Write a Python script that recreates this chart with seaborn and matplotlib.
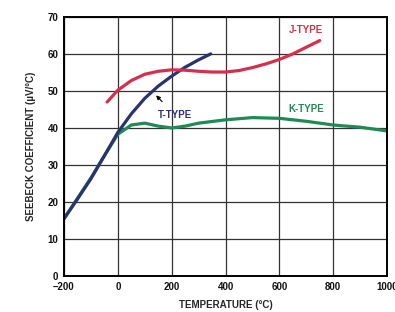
import pandas as pd
import matplotlib.pyplot as plt
import seaborn as sns

# Seebeck coefficient curves
t_temp = [-200, -150, -100, -50, 0, 50, 100, 150, 200, 250, 300, 345]
t_val = [15.5, 20.8, 26.3, 32.5, 38.8, 43.8, 48.0, 51.3, 54.0, 56.4, 58.4, 60.0]

j_temp = [-40, 0, 50, 100, 150, 200, 250, 300, 350, 400, 450, 500, 550, 600, 650, 700, 750]
j_val = [47.0, 50.2, 52.8, 54.5, 55.3, 55.7, 55.6, 55.3, 55.1, 55.1, 55.5, 56.3, 57.3, 58.5, 60.0, 61.8, 63.6]

k_temp = [-200, -150, -100, -50, 0, 50, 100, 150, 200, 250, 300, 400, 500, 600, 700, 800, 900, 1000]
k_val = [15.5, 21.0, 26.5, 32.5, 38.3, 40.8, 41.3, 40.5, 40.0, 40.5, 41.3, 42.2, 42.8, 42.6, 41.8, 40.8, 40.2, 39.2]

x_ticks = [-200, 0, 200, 400, 600, 800, 1000]
y_ticks = [0, 10, 20, 30, 40, 50, 60, 70]

df = pd.concat([
    pd.DataFrame({"temp": k_temp, "val": k_val, "type": "K-TYPE"}),
    pd.DataFrame({"temp": t_temp, "val": t_val, "type": "T-TYPE"}),
    pd.DataFrame({"temp": j_temp, "val": j_val, "type": "J-TYPE"}),
])
colors = {"K-TYPE": "#1f8a55", "T-TYPE": "#2b336e", "J-TYPE": "#d4304c"}

sns.set_style("white")
plt.rcParams["font.family"] = ["Liberation Sans", "DejaVu Sans"]

fig = plt.figure(figsize=(3.95, 3.12), dpi=100)
ax = fig.add_axes([0.162, 0.115, 0.818, 0.831])

ax.set_xticks(x_ticks)
ax.set_yticks(y_ticks)
ax.grid(True, color="#333333", linewidth=0.9)
ax.set_axisbelow(True)

sns.lineplot(data=df, x="temp", y="val", hue="type", palette=colors,
             linewidth=2.3, legend=False, ax=ax, sort=False)

ax.set_xlim(-200, 1000)
ax.set_ylim(0, 70)
for s in ax.spines.values():
    s.set_color("black")
    s.set_linewidth(1.4)
ax.tick_params(length=0, labelsize=7, pad=4, colors="#111111")
for lbl in ax.get_xticklabels() + ax.get_yticklabels():
    lbl.set_fontweight("bold")
ax.set_xticklabels(["\u2013200", "0", "200", "400", "600", "800", "1000"])

ax.set_xlabel("TEMPERATURE (\u00b0C)", fontsize=7, fontweight="bold", labelpad=6)
ax.set_ylabel("SEEBECK COEFFICIENT (\u00b5V/\u00b0C)", fontsize=7, fontweight="bold", labelpad=8)

ax.text(700, 66.5, "J-TYPE", color=colors["J-TYPE"], fontsize=7, fontweight="bold", ha="center", va="center")
ax.text(700, 45.0, "K-TYPE", color=colors["K-TYPE"], fontsize=7, fontweight="bold", ha="center", va="center")
ax.annotate("T-TYPE", xy=(142, 48.8), xytext=(212, 43.5), color=colors["T-TYPE"],
            fontsize=7, fontweight="bold", ha="center", va="center",
            arrowprops=dict(arrowstyle="-|>", color="black", lw=0.8, mutation_scale=6,
                            shrinkA=5, shrinkB=0))

plt.savefig("out.png", dpi=100)
